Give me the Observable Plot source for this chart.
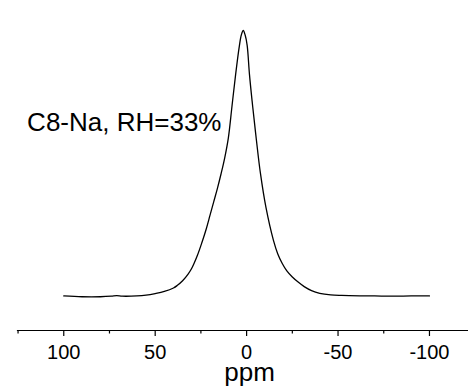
<!DOCTYPE html>
<html><head><meta charset="utf-8">
<script src="https://cdn.jsdelivr.net/npm/d3@7"></script>
<script src="https://cdn.jsdelivr.net/npm/@observablehq/plot@0.6"></script>
<style>body{margin:0;background:#fff} svg{display:block}</style>
</head><body><div id="chart"></div>
<script>
// chemical shift (ppm) and normalized intensity
const ppm = [100, 90, 80, 74, 71, 68, 60, 55, 50, 45, 40, 38, 35, 32, 30, 27, 24.3, 22, 20, 18, 16, 14, 12, 10, 8, 6, 4, 2.9, 1.85, 0.8, -0.3, -1.56, -3.0, -4.46, -5.4, -7.57, -10.58, -14.68, -17, -19.5, -22, -25, -28, -31.5, -35.5, -40, -46, -52, -62, -70, -80, -90, -100];
const intensity = [0.001, -0.002, -0.002, 0.0, 0.002, 0.0, 0.001, 0.004, 0.01, 0.018, 0.031, 0.04, 0.058, 0.083, 0.105, 0.152, 0.205, 0.255, 0.305, 0.355, 0.405, 0.46, 0.52, 0.595, 0.715, 0.835, 0.94, 0.983, 1.0, 0.983, 0.944, 0.835, 0.735, 0.643, 0.585, 0.462, 0.334, 0.21, 0.16, 0.123, 0.095, 0.072, 0.054, 0.036, 0.021, 0.011, 0.005, 0.003, 0.0015, 0.001, 0.0, 0.001, 0.001];
const majorTicks = [100, 50, 0, -50, -100];
const minorTicks = [125, 75, 25, -25, -75];
const xDomain = [125.3, -121.35];
const yDomain = [-0.1291, 1.1129];
const xLabel = "ppm";
const annotation = "C8-Na, RH=33%";

const data = ppm.map((p, i) => ({ppm: p, intensity: intensity[i]}));

const chart = Plot.plot({
  width: 468,
  height: 392,
  marginLeft: 17,
  marginRight: 0,
  marginTop: 0,
  marginBottom: 62,
  x: {domain: xDomain},
  y: {domain: yDomain, axis: null},
  style: {fontFamily: "'Liberation Sans', Arial, sans-serif", color: "black", background: "white"},
  marks: [
    Plot.frame({anchor: "bottom", stroke: "black", strokeWidth: 1.2}),
    Plot.axisX(majorTicks, {tickSize: 6, tickPadding: 8, fontSize: 20, label: null, tickFormat: d => String(d), stroke: "black", strokeWidth: 1.2}),
    Plot.axisX(minorTicks, {tickSize: 3.5, text: null, label: null, stroke: "black", strokeWidth: 1.2}),
    Plot.line(data, {x: "ppm", y: "intensity", curve: "catmull-rom", stroke: "black", strokeWidth: 1.3}),
    Plot.text([annotation], {x: () => 13.75, y: () => 0.62, text: d => d, textAnchor: "end", lineAnchor: "bottom", fontSize: 26, fill: "black"}),
    Plot.text([xLabel], {frameAnchor: "bottom", dx: 6.5, dy: 50, text: d => d, lineAnchor: "bottom", fontSize: 26, fill: "black"})
  ]
});
document.getElementById("chart").appendChild(chart);
</script>
</body></html>
